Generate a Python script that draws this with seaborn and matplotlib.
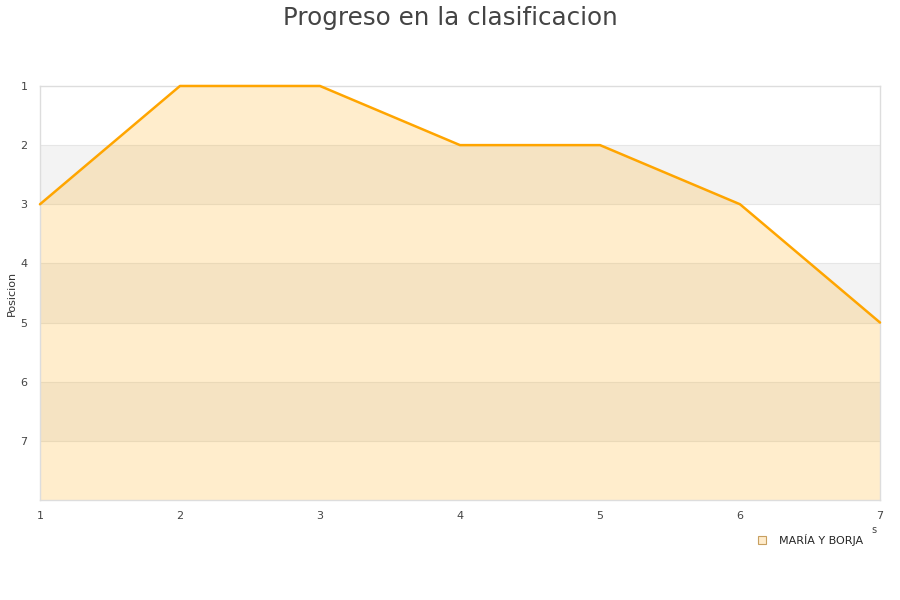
import matplotlib
matplotlib.use("Agg")
import matplotlib.pyplot as plt
import seaborn as sns
import pandas as pd
from matplotlib.lines import Line2D

jornadas = [1, 2, 3, 4, 5, 6, 7]
posiciones = [3, 1, 1, 2, 2, 3, 5]
equipo = "MARÍA Y BORJA"
y_ticks = [1, 2, 3, 4, 5, 6, 7]

sns.set_style("white")
plt.rcParams['font.family'] = ['DejaVu Sans']

df = pd.DataFrame({"Jornada": jornadas, "Posicion": posiciones})

fig = plt.figure(figsize=(9, 6), dpi=100)
ax = fig.add_axes([0.0444, 0.1667, 0.9334, 0.690])

# alternating bands
for lo in [2, 4, 6]:
    ax.axhspan(lo, lo + 1, color="#f3f3f3", zorder=0, lw=0)
for y in range(2, 8):
    ax.axhline(y, color="#e6e6e6", lw=0.8, zorder=0.5)

ax.fill_between(df["Jornada"], df["Posicion"], 8, color="orange", alpha=0.2, lw=0, zorder=1)
sns.lineplot(data=df, x="Jornada", y="Posicion", color="orange", lw=1.8, ax=ax, zorder=3)
for ln in ax.lines:
    ln.set_clip_on(False)

ax.set_xlim(1, 7)
ax.set_ylim(8, 1)
ax.set_xticks(jornadas)
ax.set_yticks(y_ticks)
ax.tick_params(axis="x", labelsize=8, colors="#444444", length=0, pad=8)
ax.tick_params(axis="y", labelsize=8, colors="#444444", length=0, pad=9)
ax.set_xlabel("")
ax.set_ylabel("Posicion", fontsize=8, color="#333333")
ax.yaxis.set_label_coords(-0.028, 0.5)
for s in ax.spines.values():
    s.set_color("#dddddd")
    s.set_linewidth(1)

fig.suptitle("Progreso en la clasificacion", fontsize=17.7, color="#444444", y=0.99)
fig.text(0.968, 0.112, "s", fontsize=7, color="#444444", ha="left")

handle = Line2D([], [], marker="s", linestyle="none", markersize=6,
                markerfacecolor="#ffeccc", markeredgecolor="#c8a060", markeredgewidth=0.8)
fig.legend([handle], [equipo], loc="center right", bbox_to_anchor=(0.97, 0.1),
           frameon=False, fontsize=8, handletextpad=0.5)

fig.savefig("out.png", dpi=100)
